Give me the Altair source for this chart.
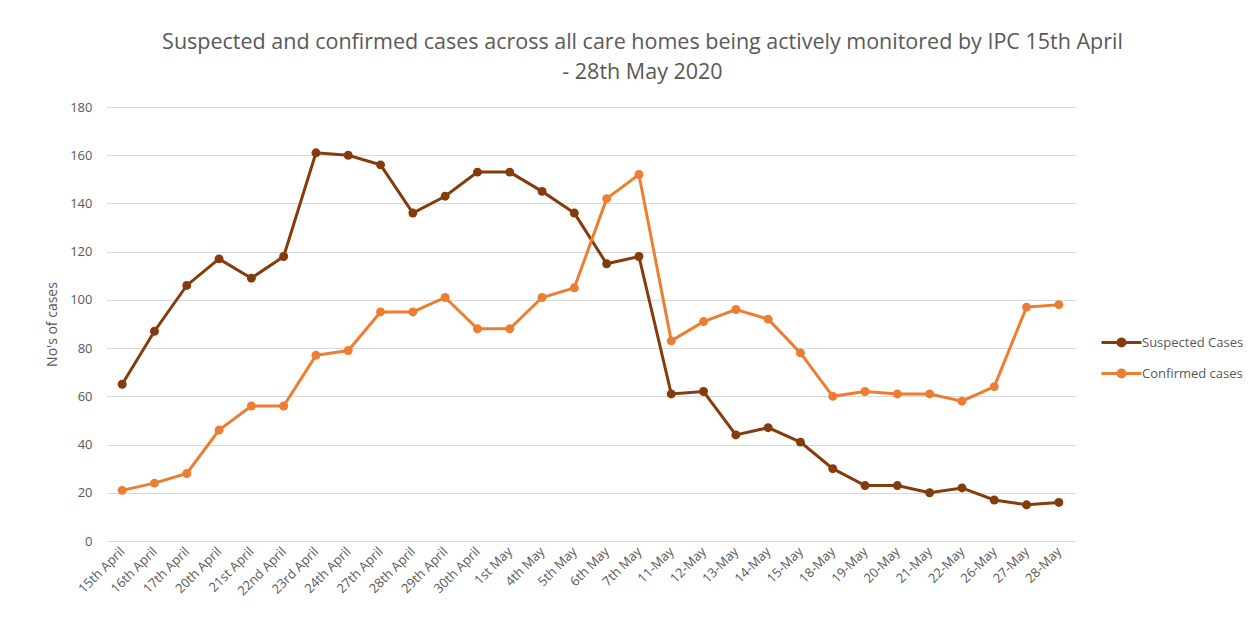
import altair as alt
import pandas as pd

dates = ["15th April", "16th April", "17th April", "20th April", "21st April", "22nd April",
         "23rd April", "24th April", "27th April", "28th April", "29th April", "30th April",
         "1st May", "4th May", "5th May", "6th May", "7th May", "11-May", "12-May", "13-May",
         "14-May", "15-May", "18-May", "19-May", "20-May", "21-May", "22-May", "26-May",
         "27-May", "28-May"]
suspected = [65, 87, 106, 117, 109, 118, 161, 160, 156, 136, 143, 153, 153, 145, 136, 115,
             118, 61, 62, 44, 47, 41, 30, 23, 23, 20, 22, 17, 15, 16]
confirmed = [21, 24, 28, 46, 56, 56, 77, 79, 95, 95, 101, 88, 88, 101, 105, 142, 152, 83,
             91, 96, 92, 78, 60, 62, 61, 61, 58, 64, 97, 98]
series_names = ["Suspected Cases", "Confirmed cases"]
series_colors = ["#843C0C", "#ED7D31"]

rows = []
for i, d in enumerate(dates):
    rows.append({"date": d, "order": i, "series": series_names[0], "value": suspected[i]})
    rows.append({"date": d, "order": i, "series": series_names[1], "value": confirmed[i]})
df = pd.DataFrame(rows)

font = "Open Sans"
grey = "#595959"

legend_path = ("M-2,0 H2 "
               "M-0.15,0 A0.15,0.15 0 1,0 0.15,0 A0.15,0.15 0 1,0 -0.15,0 "
               "M-0.35,0 A0.35,0.35 0 1,0 0.35,0 A0.35,0.35 0 1,0 -0.35,0")

x = alt.X("date:N", sort=dates, title=None,
          scale=alt.Scale(paddingInner=0, paddingOuter=0),
          axis=alt.Axis(labelAngle=-45, labelAlign="right", labelBaseline="middle",
                        labelFont=font, labelFontSize=13, labelColor=grey,
                        ticks=False, domain=False, labelPadding=8, grid=False))
y = alt.Y("value:Q", title="No's of cases",
          scale=alt.Scale(domain=[0, 180]),
          axis=alt.Axis(values=list(range(0, 181, 20)), labelFont=font, labelFontSize=13,
                        labelColor=grey, titleFont=font, titleFontSize=14,
                        titleFontWeight="normal", titleColor=grey, titlePadding=10,
                        ticks=False, domain=False, labelPadding=14,
                        gridColor="#d9d9d9", gridWidth=1))
color = alt.Color("series:N", sort=series_names,
                  scale=alt.Scale(domain=series_names, range=series_colors),
                  legend=alt.Legend(title=None, orient="none", legendX=1004, legendY=224,
                                    symbolType=legend_path, symbolSize=400,
                                    symbolStrokeWidth=3, labelOffset=9,
                                    labelFont=font, labelFontSize=13, labelColor=grey,
                                    rowPadding=10, padding=0))

base = alt.Chart(df).encode(x=x, y=y, color=color)
lines = base.mark_line(strokeWidth=3)
points = base.mark_point(size=80, filled=True, opacity=1)

chart = alt.layer(lines, points).properties(
    width=969, height=434,
    background="white",
    title=alt.TitleParams(
        text=["Suspected and confirmed cases across all care homes being actively monitored by IPC 15th April",
              "- 28th May 2020"],
        font=font, fontSize=21.5, fontWeight="normal", color=grey,
        anchor="middle", dx=52, lineHeight=30, offset=18),
    autosize=alt.AutoSizeParams(type="none"),
    padding={"left": 98, "top": 99, "right": 175, "bottom": 68},
).configure_view(stroke=None)

chart.save("out.html", embed_options={"renderer": "svg", "actions": False})
